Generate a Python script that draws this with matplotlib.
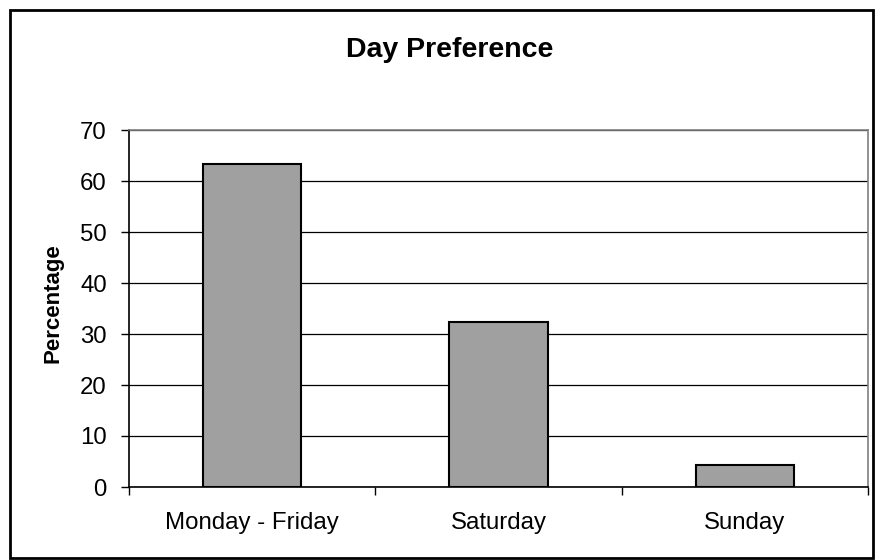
import matplotlib.pyplot as plt
from matplotlib.patches import Rectangle

categories = ['Monday - Friday', 'Saturday', 'Sunday']
percentages = [63.3, 32.3, 4.4]
y_ticks = [0, 10, 20, 30, 40, 50, 60, 70]

plt.rcParams['font.family'] = ['Liberation Sans', 'DejaVu Sans']

fig = plt.figure(figsize=(8.75, 5.6), dpi=100)
ax = fig.add_axes([129 / 875, 1 - 487 / 560, (868 - 129) / 875, (487 - 130) / 560])

x = range(len(categories))
ax.bar(x, percentages, width=0.4, color='#a0a0a0', edgecolor='black', linewidth=1.5, zorder=3)

ax.set_xlim(-0.5, len(categories) - 0.5)
ax.set_ylim(0, 70)
ax.set_yticks(y_ticks)
ax.yaxis.grid(True, color='black', linewidth=0.9, zorder=0)

# category ticks sit between the bars, labels in the middle
ax.set_xticks([i - 0.5 for i in range(len(categories) + 1)])
ax.set_xticklabels([])
ax.set_xticks(list(x), minor=True)
ax.set_xticklabels(categories, minor=True)
ax.tick_params(axis='x', which='major', length=6, width=1, direction='out')
ax.tick_params(axis='x', which='minor', length=0, pad=18, labelsize=17.3)
ax.tick_params(axis='y', length=6, width=1, pad=10, labelsize=17.3)

ax.spines['left'].set_color('black')
ax.spines['bottom'].set_color('black')
ax.spines['top'].set_color('#808080')
ax.spines['right'].set_color('#808080')
for s in ax.spines.values():
    s.set_linewidth(1.2)

ax.set_ylabel('Percentage', fontsize=16, fontweight='bold')
ax.yaxis.set_label_coords(-0.088, 0.515)
fig.text(450 / 875, 1 - 50 / 560, 'Day Preference', fontsize=20.5, fontweight='bold',
         ha='center', va='center')

# chart border
fig.patches.append(Rectangle((10 / 875, 2 / 560), 863 / 875, 548 / 560, transform=fig.transFigure,
                             fill=False, edgecolor='black', linewidth=2))

fig.savefig('out.png', dpi=100)
